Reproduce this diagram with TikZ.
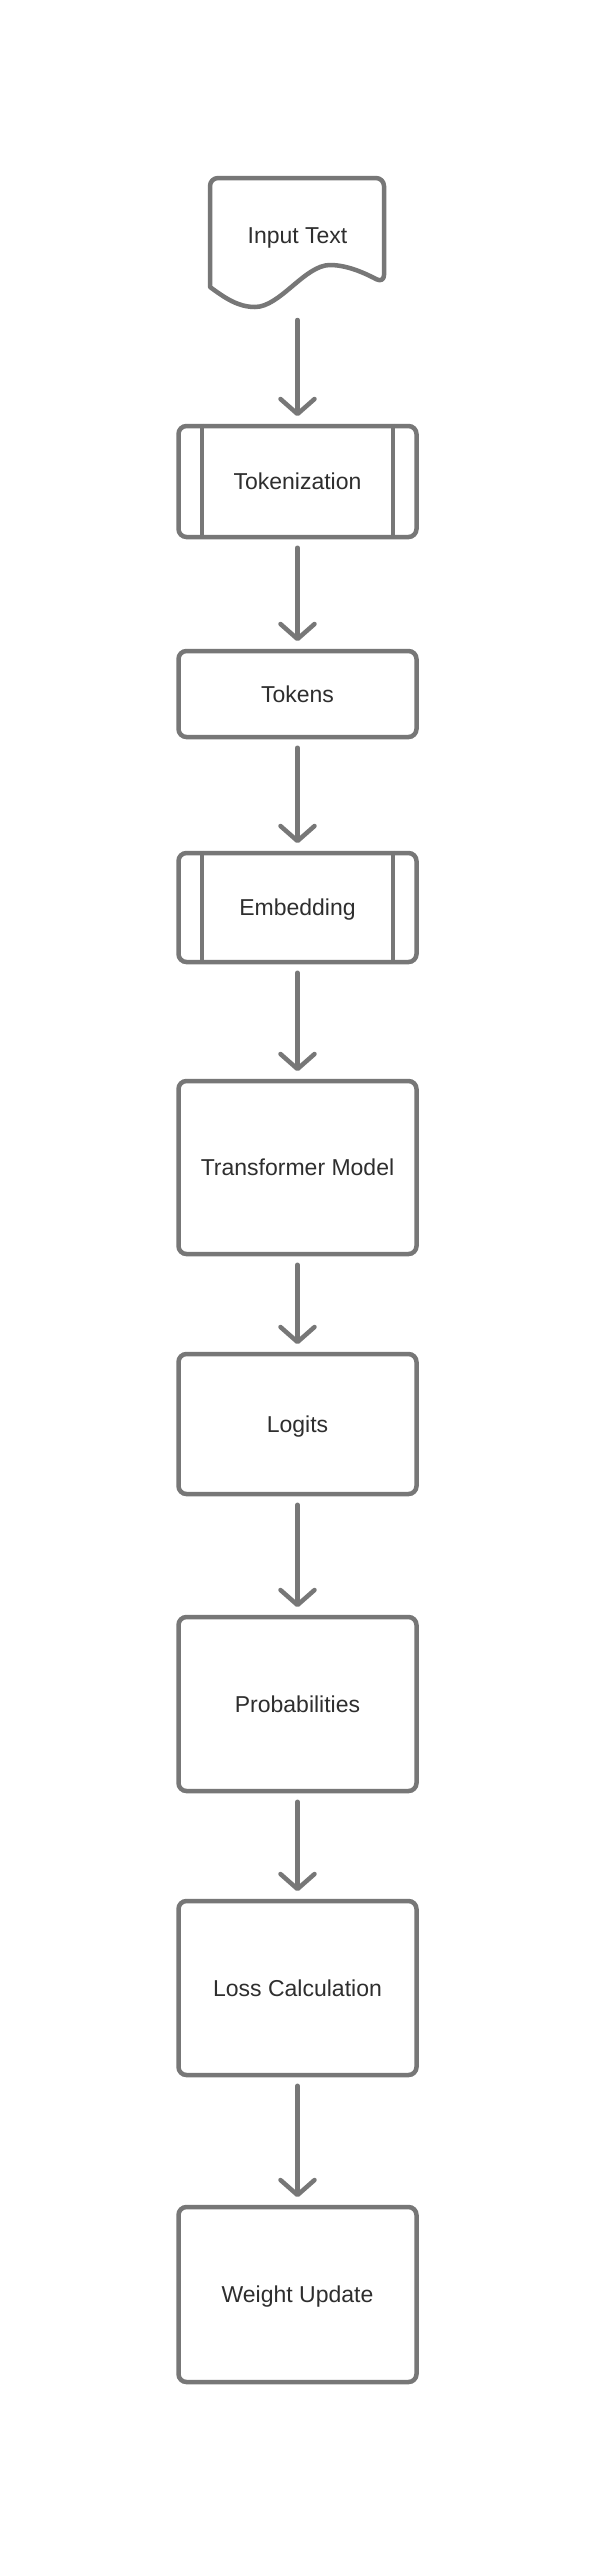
\documentclass[tikz,border=0pt]{standalone}
\usepackage{fontspec}
\setmainfont{Liberation Sans}
\usetikzlibrary{arrows.meta}
\definecolor{linegray}{HTML}{777777}
\definecolor{textgray}{HTML}{2E2E2E}
\tikzstyle{label}=[text=textgray,font=\fontsize{23}{28}\selectfont,
                   text height=16.5pt,text depth=0pt,inner sep=0pt]
\tikzstyle{stepbox}=[label,rectangle,rounded corners=8pt,draw=linegray,
                     line width=4.5pt,fill=white,minimum width=238pt]
\tikzstyle{flow}=[draw=linegray,line width=4.5pt,line cap=round,
                  shorten <=8.5pt,shorten >=7.5pt,
                  -{Straight Barb[round,length=15pt,width=34pt]}]
\tikzstyle{sideline}=[draw=linegray,line width=4.5pt]

\begin{document}
\begin{tikzpicture}[x=1pt,y=-1pt]
    \newcommand{\midx}{297.5}
    \useasboundingbox[fill=white] (0,0) rectangle (596,2560);
    % input document
    \draw[linegray,line width=4.5pt,line join=round,rounded corners=8pt]
      (210,287) -- (210,178) -- (384,178) -- (384,283) [sharp corners]
      .. controls (370,276) and (350,265) .. (330,265)
      .. controls (305,265) and (280,307) .. (255,307)
      .. controls (238,307) and (225,298) .. (210,287) -- cycle;
    \node (input) at (\midx, 235) [label]{Input Text};
    \coordinate (inb) at (\midx, 311.5);
    % steps
    \node (tok)   at (\midx, 481.5) [stepbox,minimum height=111pt]{Tokenization};
    \node (toks)  at (\midx, 694)   [stepbox,minimum height=86pt]{Tokens};
    \node (emb)   at (\midx, 907.5) [stepbox,minimum height=109pt]{Embedding};
    \node (trans) at (\midx, 1167.5)[stepbox,minimum height=173pt]{Transformer Model};
    \node (logit) at (\midx, 1424)  [stepbox,minimum height=140pt]{Logits};
    \node (prob)  at (\midx, 1704)  [stepbox,minimum height=174pt]{Probabilities};
    \node (loss)  at (\midx, 1988)  [stepbox,minimum height=174pt]{Loss Calculation};
    \node (upd)   at (\midx, 2294.5)[stepbox,minimum height=175pt]{Weight Update};
    % inner bars of the process boxes
    \foreach \b in {tok, emb} {
      \draw[sideline] ([xshift=25.75pt]\b.north west) -- ([xshift=25.75pt]\b.south west);
      \draw[sideline] ([xshift=-25.75pt]\b.north east) -- ([xshift=-25.75pt]\b.south east);
    }
    % arrows
    \draw[flow] (inb) -- (tok.north);
    \draw[flow] (tok) -- (toks);
    \draw[flow] (toks) -- (emb);
    \draw[flow] (emb) -- (trans);
    \draw[flow] (trans) -- (logit);
    \draw[flow] (logit) -- (prob);
    \draw[flow] (prob) -- (loss);
    \draw[flow] (loss) -- (upd);
\end{tikzpicture}
\end{document}
